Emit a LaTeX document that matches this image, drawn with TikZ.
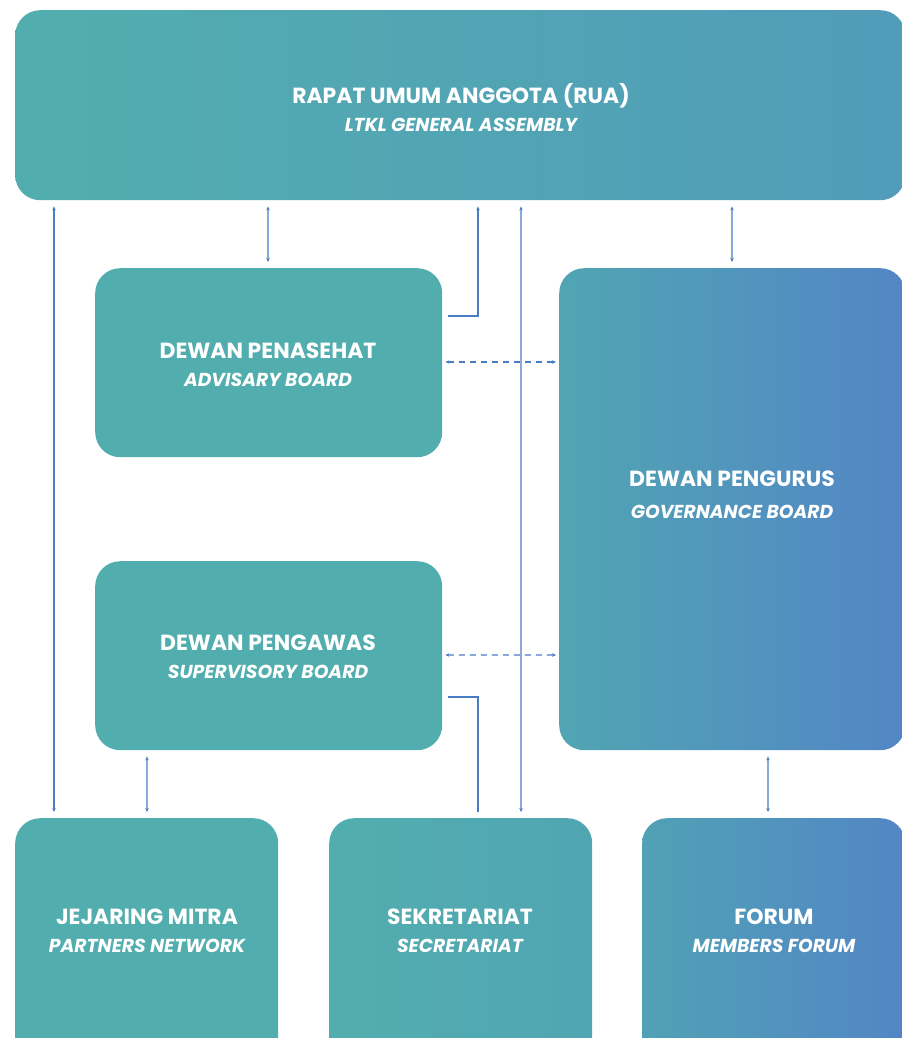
\documentclass[tikz,border=0pt]{standalone}
\usepackage{fontspec}
\setmainfont{Poppins}
\usetikzlibrary{arrows.meta}
\definecolor{teal1}{HTML}{52AEAE}
\definecolor{teal2}{HTML}{519CB9}
\definecolor{teal3}{HTML}{51A5B3}
\definecolor{blue1}{HTML}{5286C5}
\definecolor{blue2}{HTML}{51A1B5}
\definecolor{conn}{HTML}{4A7CC4}
\tikzset{
  box/.style={rectangle, rounded corners=25bp, draw=none, inner sep=0pt, anchor=north west},
  lbl/.style={align=center, text=white, inner sep=0pt, font=\bfseries\fontsize{22}{28}\selectfont},
  link/.style={draw=conn, line width=1.1bp},
  tip/.style={-{Stealth[length=4bp,width=3.5bp]}},
  tips/.style={{Stealth[length=4bp,width=3.5bp]}-{Stealth[length=4bp,width=3.5bp]}},
}
\newcommand{\subl}[1]{{\itshape\fontsize{18.8}{20}\selectfont #1}}
\begin{document}
\begin{tikzpicture}[x=1bp,y=1bp]
\useasboundingbox (0,0) rectangle (902,-1038);
\clip (0,0) rectangle (902,-1038);
% boxes
\node[box, left color=teal1, right color=teal2, minimum width=890bp, minimum height=190bp] (rua) at (15,-10) {};
\node[box, fill=teal1, minimum width=347bp, minimum height=189bp] (adv) at (95,-268) {};
\node[box, fill=teal1, minimum width=347bp, minimum height=189bp] (sup) at (95,-561) {};
\node[box, left color=teal3, right color=blue1, minimum width=346bp, minimum height=482bp] (gov) at (559,-268) {};
\node[box, fill=teal1, minimum width=263bp, minimum height=250bp] (jej) at (15,-818) {};
\node[box, left color=teal1, right color=teal3, minimum width=263bp, minimum height=250bp] (sek) at (329,-818) {};
\node[box, left color=blue2, right color=blue1, minimum width=263bp, minimum height=250bp] (for) at (642,-818) {};
% labels
\node[lbl] (ruaL) at (461,-108) {RAPAT UMUM ANGGOTA (RUA)\\\subl{LTKL GENERAL ASSEMBLY}};
\node[lbl] (advL) at (268,-365) {DEWAN PENASEHAT\\\subl{ADVISARY BOARD}};
\node[lbl] (supL) at (268,-657) {DEWAN PENGAWAS\\\subl{SUPERVISORY BOARD}};
\node[lbl, font=\bfseries\fontsize{22}{32}\selectfont] (govL) at (732,-495) {DEWAN PENGURUS\\\subl{GOVERNANCE BOARD}};
\node[lbl] (jejL) at (147,-931) {JEJARING MITRA\\\subl{PARTNERS NETWORK}};
\node[lbl] (sekL) at (460,-931) {SEKRETARIAT\\\subl{SECRETARIAT}};
\node[lbl] (forL) at (774,-931) {FORUM\\\subl{MEMBERS FORUM}};
% connectors
\draw[link, tips] ([xshift=39bp,yshift=-6bp]rua.south west) -- ([xshift=39bp,yshift=6bp]jej.north west);
\draw[link, tips] ([xshift=253bp,yshift=-6bp]rua.south west) -- ([xshift=173bp,yshift=6bp]adv.north west);
\draw[link, tip] ([xshift=6bp,yshift=-48bp]adv.north east) -| ([xshift=463bp,yshift=-6bp]rua.south west);
\draw[link, tips] ([xshift=506bp,yshift=-6bp]rua.south west) -- ([xshift=192bp,yshift=6bp]sek.north west);
\draw[link, tips] ([xshift=717bp,yshift=-6bp]rua.south west) -- ([xshift=173bp,yshift=6bp]gov.north west);
\draw[link, tips, dash pattern=on 6bp off 5bp] ([xshift=3bp,yshift=-94bp]adv.north east) -- ([xshift=-3bp,yshift=-94bp]gov.north west);
\draw[link, tips, dash pattern=on 6bp off 5bp] ([xshift=3bp,yshift=-94bp]sup.north east) -- ([xshift=-3bp,yshift=-387bp]gov.north west);
\draw[link] ([xshift=6bp,yshift=-136bp]sup.north east) -| ([xshift=149bp,yshift=6bp]sek.north west);
\draw[link, tips] ([xshift=52bp,yshift=-6bp]sup.south west) -- ([xshift=132bp,yshift=6bp]jej.north west);
\draw[link, tips] ([xshift=209bp,yshift=-6bp]gov.south west) -- ([xshift=126bp,yshift=6bp]for.north west);
\end{tikzpicture}
\end{document}
